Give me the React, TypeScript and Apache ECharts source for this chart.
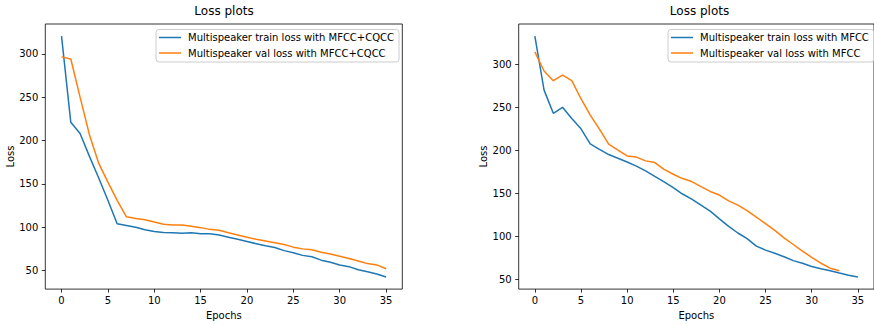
import React, { useEffect, useRef } from "react";
import * as echarts from "echarts";

const epochs = Array.from({ length: 36 }, (_, i) => i);
const epochsVal2 = Array.from({ length: 34 }, (_, i) => i);

const trainMfccCqcc = [
  320.5, 221, 208, 182, 157, 131, 104, 102, 100, 97, 95, 94, 93.5, 93, 93.5, 92.5, 92.5, 91,
  88.5, 86, 83.5, 81, 78.5, 76.5, 73, 70.5, 67.5, 66, 62, 59.5, 56.5, 54.5, 51, 48.5, 46, 42.5,
];
const valMfccCqcc = [
  296.5, 294, 250, 207, 174, 152, 131, 112, 110, 108.5, 106, 103.5, 102.5, 102.5, 101, 99.5, 97.5,
  96.5, 93.5, 91, 88.5, 86, 84, 82, 80, 77, 75, 74, 71, 69, 66.5, 64, 61, 58, 56.5, 52,
];
const trainMfcc = [
  333, 270, 243, 250, 237, 225, 207.5, 201, 195, 190.7, 186.3, 181.5, 176, 169.5, 163.2, 156.5,
  149, 143, 136, 129, 120, 111.3, 103.6, 97, 88.3, 83.7, 80, 76, 71.4, 68.4, 64.5, 62, 59.6, 57,
  54.5, 52.3,
];
const valMfcc = [
  314.6, 292.3, 281, 287.4, 281, 260, 241, 224.6, 207.2, 200.2, 193.4, 192, 187.6, 185.6, 177.7,
  172, 167, 163.5, 157.7, 152, 147.8, 141, 136, 129.7, 122, 114.4, 106.7, 98, 90.2, 82.6, 75.3,
  68.4, 62.6, 59.6,
];

const xTicks = [0, 5, 10, 15, 20, 25, 30, 35];
const yTicks = [50, 100, 150, 200, 250, 300];

const titleText = "Loss plots";
const legendLeft = ["Multispeaker train loss with MFCC+CQCC", "Multispeaker val loss with MFCC+CQCC"];
const legendRight = ["Multispeaker train loss with MFCC", "Multispeaker val loss with MFCC"];

const BLUE = "#1f77b4";
const ORANGE = "#ff7f0e";
const FONT = "DejaVu Sans";

function pad(arrs: number[][]) {
  const all = arrs.flat();
  const mn = Math.min(...all);
  const mx = Math.max(...all);
  const m = (mx - mn) * 0.05;
  return [mn - m, mx + m];
}

export default function App() {
  const ref = useRef<HTMLDivElement>(null);
  useEffect(() => {
    if (!ref.current) return;
    const chart = echarts.init(ref.current, undefined, { renderer: "svg" });
    const [lMin, lMax] = pad([trainMfccCqcc, valMfccCqcc]);
    const [rMin, rMax] = pad([trainMfcc, valMfcc]);

    const xAxisBase = (gridIndex: number) => ({
      type: "value" as const,
      gridIndex,
      position: "bottom" as const,
      min: -1.75,
      max: 36.75,
      name: "Epochs",
      nameLocation: "middle" as const,
      nameGap: 19,
      nameTextStyle: { fontFamily: FONT, fontSize: 10, color: "#000" },
      axisLine: { show: false, onZero: false },
      axisTick: {
        show: true,
        inside: false,
        length: 3.5,
        customValues: xTicks,
        lineStyle: { color: "#000", width: 0.8 },
      },
      axisLabel: {
        show: true,
        customValues: xTicks,
        margin: 6,
        fontFamily: FONT,
        fontSize: 10,
        color: "#000",
      },
      splitLine: { show: false },
    });
    const yAxisBase = (gridIndex: number, min: number, max: number) => ({
      type: "value" as const,
      gridIndex,
      position: "left" as const,
      min,
      max,
      name: "Loss",
      nameLocation: "middle" as const,
      nameGap: 29,
      nameTextStyle: { fontFamily: FONT, fontSize: 10, color: "#000" },
      axisLine: { show: false, onZero: false },
      axisTick: {
        show: true,
        inside: false,
        length: 3.5,
        customValues: yTicks,
        lineStyle: { color: "#000", width: 0.8 },
      },
      axisLabel: {
        show: true,
        customValues: yTicks,
        margin: 7,
        fontFamily: FONT,
        fontSize: 10,
        color: "#000",
      },
      splitLine: { show: false },
    });

    const legendBase = (left: number, names: string[]) => ({
      data: names,
      orient: "vertical" as const,
      left,
      top: 29.5,
      icon: "rect",
      itemWidth: 22,
      itemHeight: 1.5,
      itemGap: 3.5,
      padding: [2, 5, 3, 3],
      borderColor: "#cccccc",
      borderWidth: 1,
      borderRadius: 3,
      backgroundColor: "rgba(255,255,255,0.8)",
      textStyle: { fontFamily: FONT, fontSize: 10, color: "#000", lineHeight: 12, padding: [0, 0, 0, 2] },
      selectedMode: false,
    });

    chart.setOption({
      animation: false,
      backgroundColor: "#fff",
      title: [
        {
          text: titleText,
          left: 224,
          top: 5,
          textAlign: "center",
          padding: 0,
          textStyle: { fontFamily: FONT, fontSize: 12, fontWeight: "normal", color: "#000" },
        },
        {
          text: titleText,
          left: 699.5,
          top: 5,
          textAlign: "center",
          padding: 0,
          textStyle: { fontFamily: FONT, fontSize: 12, fontWeight: "normal", color: "#000" },
        },
      ],
      legend: [legendBase(156, legendLeft), legendBase(668, legendRight)],
      grid: [
        {
          left: 45.3,
          top: 24,
          width: 357,
          height: 266.7,
          show: true,
          borderColor: "#000",
          borderWidth: 0.8,
          backgroundColor: "transparent",
          containLabel: false,
        },
        {
          left: 518.7,
          top: 24,
          width: 361.3,
          height: 266.7,
          show: true,
          borderColor: "#000",
          borderWidth: 0.8,
          backgroundColor: "transparent",
          containLabel: false,
        },
      ],
      xAxis: [xAxisBase(0), xAxisBase(1)],
      yAxis: [yAxisBase(0, lMin, lMax), yAxisBase(1, rMin, rMax)],
      series: [
        {
          name: legendLeft[0],
          type: "line",
          xAxisIndex: 0,
          yAxisIndex: 0,
          data: epochs.map((e, i) => [e, trainMfccCqcc[i]]),
          showSymbol: false,
          symbol: "none",
          lineStyle: { color: BLUE, width: 1.5 },
          itemStyle: { color: BLUE },
        },
        {
          name: legendLeft[1],
          type: "line",
          xAxisIndex: 0,
          yAxisIndex: 0,
          data: epochs.map((e, i) => [e, valMfccCqcc[i]]),
          showSymbol: false,
          symbol: "none",
          lineStyle: { color: ORANGE, width: 1.5 },
          itemStyle: { color: ORANGE },
        },
        {
          name: legendRight[0],
          type: "line",
          xAxisIndex: 1,
          yAxisIndex: 1,
          data: epochs.map((e, i) => [e, trainMfcc[i]]),
          showSymbol: false,
          symbol: "none",
          lineStyle: { color: BLUE, width: 1.5 },
          itemStyle: { color: BLUE },
        },
        {
          name: legendRight[1],
          type: "line",
          xAxisIndex: 1,
          yAxisIndex: 1,
          data: epochsVal2.map((e, i) => [e, valMfcc[i]]),
          showSymbol: false,
          symbol: "none",
          lineStyle: { color: ORANGE, width: 1.5 },
          itemStyle: { color: ORANGE },
        },
      ],
    });
    return () => chart.dispose();
  }, []);
  return (
    <div
      ref={ref}
      style={{ position: "fixed", left: 0, top: 0, width: 874, height: 325, overflow: "hidden" }}
    />
  );
}
